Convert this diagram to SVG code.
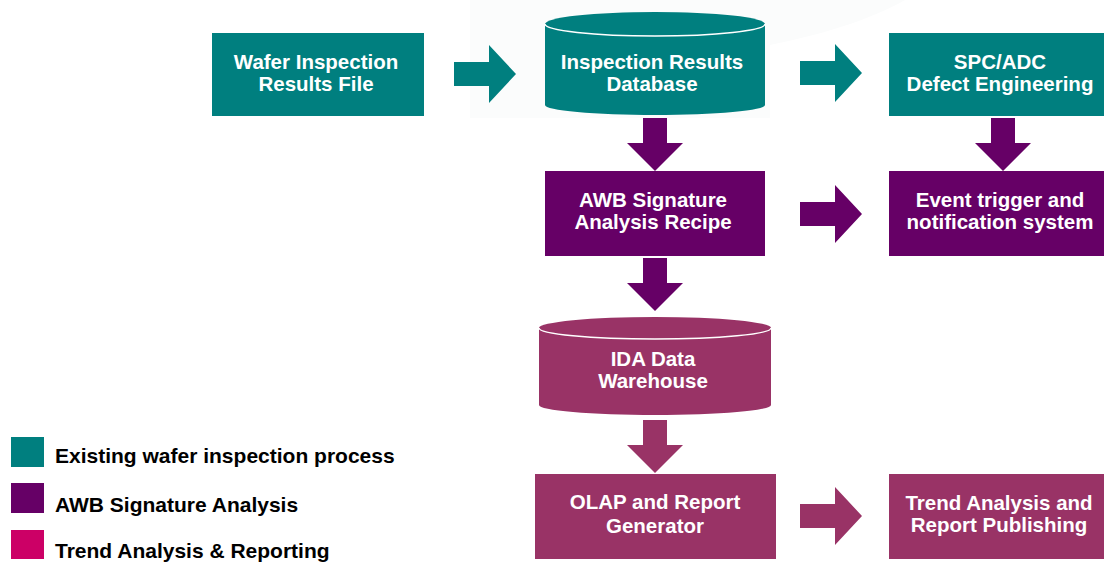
<svg xmlns="http://www.w3.org/2000/svg" width="1104" height="563" viewBox="0 0 1104 563">
<style>
.t{font-family:"Liberation Sans",Arial,sans-serif;font-weight:bold;font-size:20.5px;fill:#fff;text-anchor:middle}
.lg{font-family:"Liberation Sans",Arial,sans-serif;font-weight:bold;font-size:21px;fill:#000}
.teal{fill:#007F7F}
.purp{fill:#660066}
.maro{fill:#993366}
.edge{fill:none;stroke:#fff;stroke-width:1.5}
</style>
<defs>
<path id="ra" d="M0,-12 H35 V-29 L62,0 L35,29 V12 H0 Z"/>
<path id="da" d="M-12,0 H12 V25 H28 L0,53 L-28,25 H-12 Z"/>
</defs>
<rect width="1104" height="563" fill="#fff"/>
<path d="M470,0 H905 C870,20 820,35 770,45 V118 H470 Z" fill="#fbfcfc"/>

<g id="connectors">
<use href="#ra" x="454" y="74" class="teal"/>
<use href="#ra" x="800" y="73" class="teal"/>
<use href="#ra" x="800" y="214" class="purp"/>
<use href="#ra" x="800" y="516" class="maro"/>
<use href="#da" x="655" y="118" class="purp"/>
<use href="#da" x="1003" y="118" class="purp"/>
<use href="#da" x="655" y="258" class="purp"/>
<use href="#da" x="655" y="420" class="maro"/>
</g>

<g id="wafer-file">
<rect x="212" y="33" width="212" height="83" class="teal"/>
<text class="t" x="316" y="69">Wafer Inspection</text>
<text class="t" x="316" y="91">Results File</text>
</g>

<g id="inspection-db">
<path d="M545,24 V105 A110,10 0 0 0 765,105 V24 A110,12 0 0 0 545,24 Z" class="teal"/>
<path d="M545,24 A110,12 0 0 0 765,24" class="edge"/>
<text class="t" x="652" y="69">Inspection Results</text>
<text class="t" x="652" y="91">Database</text>
</g>

<g id="spc-adc">
<rect x="889" y="33" width="215" height="83" class="teal"/>
<text class="t" x="1000" y="69">SPC/ADC</text>
<text class="t" x="1000" y="91">Defect Engineering</text>
</g>

<g id="awb-recipe">
<rect x="545" y="171" width="220" height="85" class="purp"/>
<text class="t" x="653" y="207">AWB Signature</text>
<text class="t" x="653" y="229">Analysis Recipe</text>
</g>

<g id="event-trigger">
<rect x="889" y="171" width="215" height="85" class="purp"/>
<text class="t" x="1000" y="207">Event trigger and</text>
<text class="t" x="1000" y="229">notification system</text>
</g>

<g id="ida-warehouse">
<path d="M539,328 V405 A116,10 0 0 0 771,405 V328 A116,11 0 0 0 539,328 Z" class="maro"/>
<path d="M539,328 A116,11 0 0 0 771,328" class="edge"/>
<text class="t" x="653" y="366">IDA Data</text>
<text class="t" x="653" y="388">Warehouse</text>
</g>

<g id="olap">
<rect x="535" y="474" width="241" height="85" class="maro"/>
<text class="t" x="655" y="509">OLAP and Report</text>
<text class="t" x="655" y="533">Generator</text>
</g>

<g id="trend-publishing">
<rect x="889" y="474" width="215" height="85" class="maro"/>
<text class="t" x="999" y="510">Trend Analysis and</text>
<text class="t" x="999" y="532">Report Publishing</text>
</g>

<g id="legend">
<rect x="11" y="437" width="33" height="30" fill="#007F7F"/>
<text class="lg" x="55" y="463">Existing wafer inspection process</text>
<rect x="11" y="483" width="33" height="30" fill="#660066"/>
<text class="lg" x="55" y="512">AWB Signature Analysis</text>
<rect x="11" y="530" width="33" height="29" fill="#CC0066"/>
<text class="lg" x="55" y="558">Trend Analysis &amp; Reporting</text>
</g>
</svg>
